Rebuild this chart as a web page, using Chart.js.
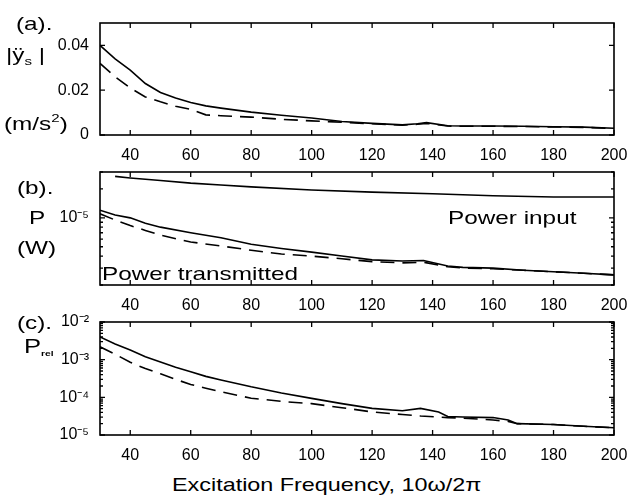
<!DOCTYPE html>
<html>
<head>
<meta charset="utf-8">
<script src="https://cdn.jsdelivr.net/npm/chart.js@4.4.0/dist/chart.umd.min.js"></script>
<style>
  html, body { margin: 0; padding: 0; background: #fff; }
  #wrap { position: relative; width: 634px; height: 498px; overflow: hidden;
          font-family: "Liberation Sans", Arial, sans-serif; color: #000; }
  canvas { position: absolute; left: 0; }
  .lbl { position: absolute; white-space: nowrap; line-height: 1;
         transform-origin: 0 50%; transform: translateY(-50%) scaleX(1.28); }
  sub, sup { font-size: 62%; line-height: 0; }
</style>
</head>
<body>
<div id="wrap">
  <canvas id="chartA" width="634" height="165" style="top:0px"></canvas>
  <canvas id="chartB" width="634" height="160" style="top:155px"></canvas>
  <canvas id="chartC" width="634" height="160" style="top:305px"></canvas>

  <div class="lbl" style="left:16px; top:23px; font-size:19px">(a).</div>
  <div class="lbl" style="left:6px; top:54px; font-size:19px">|ÿ<sub>s</sub> |</div>
  <div class="lbl" style="left:4px; top:123px; font-size:19px">(m/s<sup>2</sup>)</div>

  <div class="lbl" style="left:17px; top:187px; font-size:19px">(b).</div>
  <div class="lbl" style="left:29px; top:217px; font-size:19px">P</div>
  <div class="lbl" style="left:17px; top:247px; font-size:19px">(W)</div>
  <div class="lbl" style="left:448px; top:217px; font-size:19px">Power input</div>
  <div class="lbl" style="left:102px; top:273px; font-size:19px">Power transmitted</div>

  <div class="lbl" style="left:17px; top:322px; font-size:19px">(c).</div>
  <div class="lbl" style="left:24px; top:347px; font-size:20px">P<span style="font-size:8px; vertical-align:-3px; font-weight:bold">rel</span></div>

  <div class="lbl" style="left:172px; top:484px; font-size:19px; transform:translateY(-50%) scaleX(1.23)">Excitation Frequency, 10ω/2π</div>
</div>

<script>
// (a) acceleration amplitude |y_s''| (m/s^2)
const freqA = [30, 35, 40, 45, 50, 55, 60, 65, 70, 80, 90, 100, 110, 120, 130, 135, 138, 145, 150, 160, 170, 180, 190, 200];
const accelSolid = [0.040, 0.034, 0.029, 0.023, 0.019, 0.0165, 0.0145, 0.013, 0.012, 0.0102, 0.0088, 0.0076, 0.0060, 0.0052, 0.0045, 0.0050, 0.0055, 0.0041, 0.0040, 0.0040, 0.0039, 0.0037, 0.0035, 0.0030];
const accelDashed = [0.032, 0.026, 0.021, 0.017, 0.0148, 0.0128, 0.0115, 0.0090, 0.0086, 0.0080, 0.0070, 0.0063, 0.0057, 0.0050, 0.0044, 0.0048, 0.0052, 0.0040, 0.0039, 0.0039, 0.0038, 0.0036, 0.0034, 0.0029];

// (b) power (W)
const freqInput = [35, 40, 50, 60, 70, 80, 100, 120, 140, 160, 180, 200];
const powerInput = [2.7e-5, 2.6e-5, 2.45e-5, 2.3e-5, 2.2e-5, 2.1e-5, 1.95e-5, 1.85e-5, 1.78e-5, 1.7e-5, 1.65e-5, 1.65e-5];
const freqB = [30, 35, 40, 45, 50, 60, 70, 80, 90, 100, 110, 120, 130, 137, 145, 150, 160, 170, 180, 190, 200];
const transSolid = [1.2e-5, 1.07e-5, 1.0e-5, 8.8e-6, 8.0e-6, 7.0e-6, 6.2e-6, 5.3e-6, 4.8e-6, 4.4e-6, 4.0e-6, 3.65e-6, 3.55e-6, 3.6e-6, 3.15e-6, 3.05e-6, 3.0e-6, 2.85e-6, 2.75e-6, 2.65e-6, 2.55e-6];
const transDashed = [1.1e-5, 9.5e-6, 8.3e-6, 7.4e-6, 6.6e-6, 5.6e-6, 5.1e-6, 4.6e-6, 4.2e-6, 4.0e-6, 3.75e-6, 3.5e-6, 3.4e-6, 3.45e-6, 3.1e-6, 3.0e-6, 2.95e-6, 2.85e-6, 2.75e-6, 2.65e-6, 2.55e-6];

// (c) relative power
const freqC = [30, 35, 40, 45, 50, 55, 60, 65, 70, 80, 90, 100, 110, 120, 130, 136, 142, 145, 150, 160, 165, 168, 180, 190, 200];
const relSolid = [4.0e-3, 2.6e-3, 1.8e-3, 1.2e-3, 8.7e-4, 6.3e-4, 4.8e-4, 3.6e-4, 2.9e-4, 1.9e-4, 1.3e-4, 9.4e-5, 6.8e-5, 5.1e-5, 4.4e-5, 5.1e-5, 4.1e-5, 3.1e-5, 3.0e-5, 2.9e-5, 2.5e-5, 2.0e-5, 1.9e-5, 1.7e-5, 1.56e-5];
const relDashed = [2.2e-3, 1.4e-3, 8.5e-4, 5.8e-4, 4.2e-4, 3.0e-4, 2.2e-4, 1.75e-4, 1.4e-4, 9.5e-5, 7.8e-5, 6.8e-5, 5.3e-5, 4.1e-5, 3.5e-5, 3.2e-5, 3.0e-5, 2.9e-5, 2.8e-5, 2.5e-5, 2.3e-5, 2.0e-5, 1.9e-5, 1.7e-5, 1.56e-5];

// tick labels
const freqTicks = [40, 60, 80, 100, 120, 140, 160, 180, 200];
const accelTicks = [0, 0.02, 0.04];
const accelTickLabels = ["0", "0.02", "0.04"];
const powerTicks = [1e-5];
const powerTickLabels = ["10⁻⁵"];
const relTicks = [1e-5, 1e-4, 1e-3, 1e-2];
const relTickLabels = ["10⁻⁵", "10⁻⁴", "10⁻³", "10⁻²"];

const tickFont = { family: "'Liberation Sans', Arial, sans-serif", size: 16 };

function pts(xs, ys) {
  return xs.map((x, i) => ({ x: x, y: ys[i] }));
}

// minor log ticks (2..9 of each decade) between min and max
function logMinor(min, max) {
  const out = [];
  for (let e = Math.floor(Math.log10(min)); e <= Math.ceil(Math.log10(max)); e++) {
    for (let m = 1; m <= 9; m++) {
      const v = m * Math.pow(10, e);
      if (v >= min * 0.999 && v <= max * 1.001) out.push(v);
    }
  }
  return out;
}

// box around plot + inward tick marks (matlab look)
const boxTicks = {
  id: "boxTicks",
  afterDraw(chart) {
    const { ctx, chartArea: a, scales } = chart;
    ctx.save();
    ctx.strokeStyle = "#000";
    ctx.lineWidth = 1.6;
    ctx.strokeRect(a.left, a.top, a.right - a.left, a.bottom - a.top);
    ctx.lineWidth = 1.3;
    ctx.beginPath();
    scales.x.ticks.forEach(t => {
      const px = scales.x.getPixelForValue(t.value);
      ctx.moveTo(px, a.bottom); ctx.lineTo(px, a.bottom - 5);
      ctx.moveTo(px, a.top); ctx.lineTo(px, a.top + 5);
    });
    scales.y.ticks.forEach(t => {
      const py = scales.y.getPixelForValue(t.value);
      const len = t.label ? 5 : 3;
      ctx.moveTo(a.left, py); ctx.lineTo(a.left + len, py);
      ctx.moveTo(a.right, py); ctx.lineTo(a.right - len, py);
    });
    ctx.stroke();
    ctx.restore();
  }
};

function solid(data) {
  return { data: data, borderColor: "#000", borderWidth: 1.6, pointRadius: 0, tension: 0, fill: false };
}
function dashed(data) {
  return { data: data, borderColor: "#000", borderWidth: 1.6, pointRadius: 0, tension: 0, fill: false, borderDash: [14, 8] };
}

function xScale() {
  return {
    type: "linear",
    min: 30,
    max: 200,
    grid: { display: false },
    border: { display: false },
    afterBuildTicks: s => { s.ticks = freqTicks.map(v => ({ value: v })); },
    afterFit: s => { s.height = 30; },
    ticks: { color: "#000", font: tickFont, padding: 3, maxRotation: 0, autoSkip: false }
  };
}

function makeChart(id, padTop, datasets, yScale) {
  return new Chart(document.getElementById(id), {
    type: "line",
    data: { datasets: datasets },
    options: {
      responsive: false,
      animation: false,
      layout: { padding: { top: padTop, right: 20, left: 0, bottom: 0 } },
      plugins: { legend: { display: false }, tooltip: { enabled: false } },
      scales: { x: xScale(), y: yScale }
    },
    plugins: [boxTicks]
  });
}

// (a)
makeChart("chartA", 23, [
  solid(pts(freqA, accelSolid)),
  dashed(pts(freqA, accelDashed))
], {
  type: "linear",
  min: 0,
  max: 0.05,
  grid: { display: false },
  border: { display: false },
  afterBuildTicks: s => { s.ticks = accelTicks.map(v => ({ value: v })); },
  afterFit: s => { s.width = 100; },
  ticks: {
    color: "#000", font: tickFont, padding: 3, autoSkip: false,
    callback: v => accelTickLabels[accelTicks.indexOf(v)] || ""
  }
});

function logLabel(ticks, labels) {
  return v => {
    const i = ticks.findIndex(t => Math.abs(Math.log10(t) - Math.log10(v)) < 1e-6);
    return i >= 0 ? labels[i] : "";
  };
}

// (b)
makeChart("chartB", 17, [
  solid(pts(freqInput, powerInput)),
  solid(pts(freqB, transSolid)),
  dashed(pts(freqB, transDashed))
], {
  type: "logarithmic",
  min: 2e-6,
  max: 3e-5,
  grid: { display: false },
  border: { display: false },
  afterBuildTicks: s => { s.ticks = logMinor(2e-6, 3e-5).map(v => ({ value: v })); },
  afterFit: s => { s.width = 100; },
  ticks: { color: "#000", font: tickFont, padding: 3, autoSkip: false, callback: logLabel(powerTicks, powerTickLabels) }
});

// (c)
makeChart("chartC", 17, [
  solid(pts(freqC, relSolid)),
  dashed(pts(freqC, relDashed))
], {
  type: "logarithmic",
  min: 1e-5,
  max: 1e-2,
  grid: { display: false },
  border: { display: false },
  afterBuildTicks: s => { s.ticks = logMinor(1e-5, 1e-2).map(v => ({ value: v })); },
  afterFit: s => { s.width = 100; },
  ticks: { color: "#000", font: tickFont, padding: 3, autoSkip: false, callback: logLabel(relTicks, relTickLabels) }
});
</script>
</body>
</html>
